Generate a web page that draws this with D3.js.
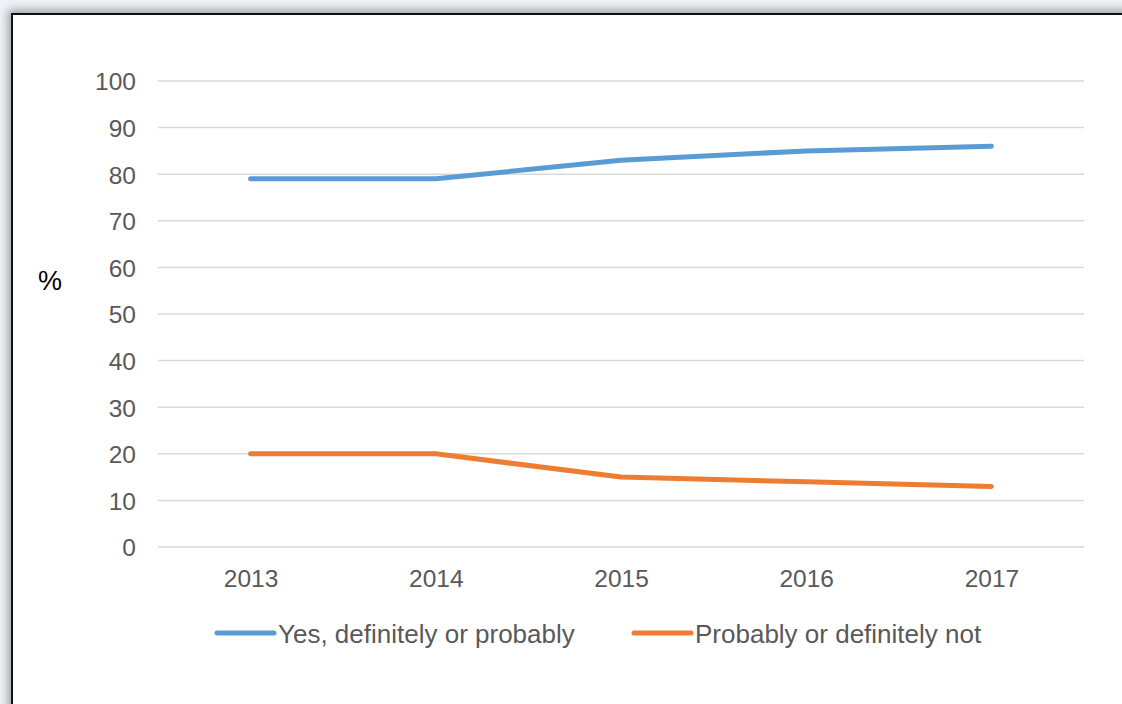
<!DOCTYPE html>
<html>
<head>
<meta charset="utf-8">
<script src="https://cdn.jsdelivr.net/npm/d3@7"></script>
<style>
  html, body { margin: 0; padding: 0; }
  body { width: 1122px; height: 704px; overflow: hidden; background: #eef3f8; position: relative; }
  #frame { position: absolute; left: 11px; top: 13px; width: 1140px; height: 720px; background: #fff;
           border-left: 2px solid #111; border-top: 2px solid #111; box-shadow: -3px -3px 9px rgba(0,0,0,0.35); }
  svg { position: absolute; left: 0; top: 0; }
  text { font-family: "Liberation Sans", Arial, sans-serif; }
</style>
</head>
<body>
<div id="frame"></div>
<svg id="chart" width="1122" height="704"></svg>
<script>
const categories = ["2013", "2014", "2015", "2016", "2017"];
const yesValues = [79, 79, 83, 85, 86];
const noValues = [20, 20, 15, 14, 13];
const yTicks = [0, 10, 20, 30, 40, 50, 60, 70, 80, 90, 100];
const seriesNames = ["Yes, definitely or probably", "Probably or definitely not"];
const seriesColors = ["#5B9BD5", "#ED7D31"];

(function () {
const svg = d3.select("#chart");
const pLeft = 158, pRight = 1084, pTop = 81, pBottom = 547;

const x = d3.scalePoint().domain(categories).range([pLeft, pRight]).padding(0.5);
const y = d3.scaleLinear().domain([0, 100]).range([pBottom, pTop]);

// gridlines
svg.append("g").selectAll("line").data(yTicks).join("line")
  .attr("x1", pLeft).attr("x2", pRight)
  .attr("y1", d => y(d)).attr("y2", d => y(d))
  .attr("stroke", "#d9d9d9").attr("stroke-width", 1.5);

// y axis labels
const yAxis = d3.axisLeft(y).tickValues(yTicks).tickSize(0).tickPadding(0);
const ya = svg.append("g").attr("transform", `translate(136,0)`).call(yAxis);
ya.select(".domain").remove();
ya.selectAll("text").attr("font-size", "24.5px").attr("fill", "#595959")
  .attr("font-family", "Liberation Sans, Arial, sans-serif").attr("dy", "0.36em");

// x axis labels
const xAxis = d3.axisBottom(x).tickSize(0).tickPadding(0);
const xa = svg.append("g").attr("transform", `translate(0,587)`).call(xAxis);
xa.select(".domain").remove();
xa.selectAll("text").attr("font-size", "24.5px").attr("fill", "#595959").attr("y", 0).attr("dy", 0)
  .attr("font-family", "Liberation Sans, Arial, sans-serif");

// % label
svg.append("text").attr("x", 38).attr("y", 290).attr("font-size", "27px").attr("fill", "#000").text("%");

// lines
const line = d3.line().x((d, i) => x(categories[i])).y(d => y(d));
[yesValues, noValues].forEach((vals, k) => {
  svg.append("path").datum(vals).attr("d", line)
    .attr("fill", "none").attr("stroke", seriesColors[k]).attr("stroke-width", 5)
    .attr("stroke-linecap", "round").attr("stroke-linejoin", "round");
});

// legend
const legendX = [217, 634];
seriesNames.forEach((name, k) => {
  const g = svg.append("g").attr("transform", `translate(${legendX[k]},633)`);
  g.append("line").attr("x1", 0).attr("x2", 57).attr("y1", 0).attr("y2", 0)
    .attr("stroke", seriesColors[k]).attr("stroke-width", 5).attr("stroke-linecap", "round");
  g.append("text").attr("x", 61).attr("y", 10)
    .attr("font-size", "26px").attr("fill", "#595959").text(name);
});
})();
</script>
</body>
</html>
